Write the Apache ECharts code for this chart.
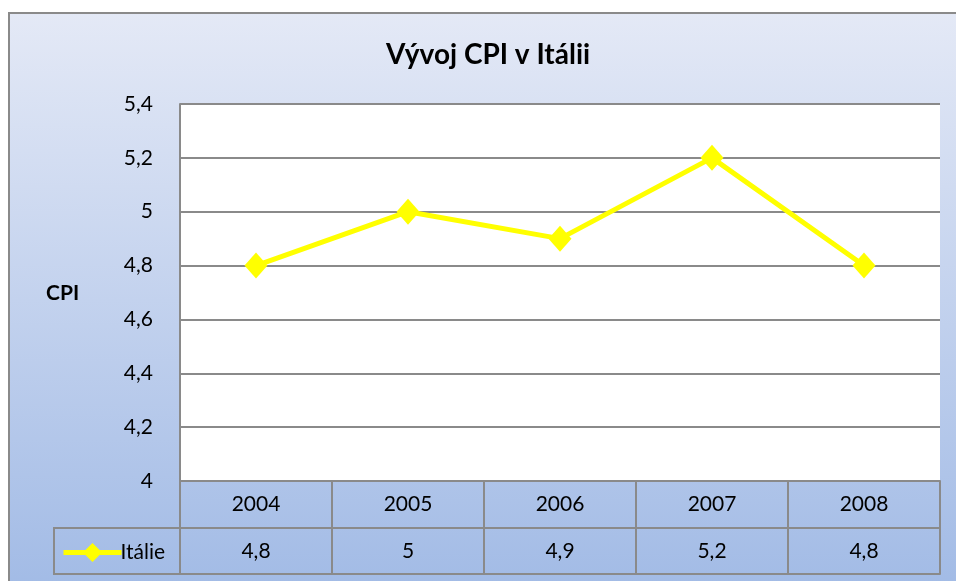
<!DOCTYPE html>
<html>
<head>
<meta charset="utf-8">
<script src="https://cdn.jsdelivr.net/npm/echarts@6/dist/echarts.min.js"></script>
<style>
  html, body { margin: 0; padding: 0; background: #fff; }
  #main { width: 956px; height: 581px; }
</style>
</head>
<body>
<div id="main"></div>
<script>
// data
var roky = ['2004', '2005', '2006', '2007', '2008'];
var cpiItalie = [4.8, 5, 4.9, 5.2, 4.8];
var nazevRady = 'Itálie';

function carka(v) {
    return String(+(+v).toFixed(1)).replace('.', ',');
}

var seda = '#8a8a8a';
var pismo = 'Lato, "Open Sans", sans-serif';
var velikost = 21;

var chart = echarts.init(document.getElementById('main'));
var option = {
    animation: false,
    textStyle: { fontFamily: pismo },
    title: {
        text: 'Vývoj CPI v Itálii',
        left: 381,
        top: 36,
        textStyle: { fontSize: 28, fontWeight: 'bold', color: '#000', fontFamily: pismo }
    },
    legend: {
        data: [nazevRady],
        left: 56,
        top: 537,
        itemWidth: 58,
        itemHeight: 24,
        itemGap: 0,
        lineStyle: { width: 5 },
        textStyle: { fontSize: velikost, color: '#000', fontFamily: pismo, padding: [0, 0, 0, -6] }
    },
    graphic: [
        {
            type: 'rect',
            silent: true,
            z: -10,
            shape: { x: 9, y: 13, width: 980, height: 600 },
            style: {
                fill: new echarts.graphic.LinearGradient(0, 0, 0, 1, [
                    { offset: 0, color: '#e4e9f6' },
                    { offset: 1, color: '#9fb9e5' }
                ]),
                stroke: seda,
                lineWidth: 2
            }
        },
        {
            type: 'rect',
            silent: true,
            z: 10,
            shape: { x: 54, y: 528, width: 126, height: 46 },
            style: { fill: 'none', stroke: seda, lineWidth: 2 }
        },
        {
            type: 'text',
            left: 46,
            top: 283,
            style: { text: 'CPI', fontSize: 21, fontWeight: 'bold', fill: '#000', fontFamily: pismo }
        }
    ],
    grid: {
        left: 180,
        right: 16,
        top: 104,
        bottom: 100,
        show: true,
        backgroundColor: '#fff',
        borderWidth: 0
    },
    xAxis: [
        {
            type: 'category',
            data: roky,
            position: 'bottom',
            axisLine: { lineStyle: { color: seda, width: 2 } },
            axisTick: { show: true, length: 47, lineStyle: { color: seda, width: 2 } },
            axisLabel: { fontSize: velikost, color: '#000', margin: 13, fontFamily: pismo }
        },
        {
            type: 'category',
            data: roky,
            position: 'bottom',
            offset: 47,
            axisLine: { lineStyle: { color: seda, width: 2 } },
            axisTick: { show: true, length: 46, lineStyle: { color: seda, width: 2 } },
            axisLabel: {
                fontSize: velikost, color: '#000', margin: 13, fontFamily: pismo,
                formatter: function (v, i) { return carka(cpiItalie[i]); }
            }
        },
        {
            type: 'category',
            data: roky,
            position: 'bottom',
            offset: 93,
            axisLine: { lineStyle: { color: seda, width: 2 } },
            axisTick: { show: false },
            axisLabel: { show: false }
        }
    ],
    yAxis: {
        type: 'value',
        min: 4,
        max: 5.4,
        interval: 0.2,
        axisLine: { show: true, lineStyle: { color: seda, width: 2 } },
        axisTick: { show: false },
        axisLabel: {
            fontSize: velikost, color: '#000', margin: 27, fontFamily: pismo,
            formatter: carka
        },
        splitLine: { lineStyle: { color: seda, width: 2 } }
    },
    series: [
        {
            name: nazevRady,
            type: 'line',
            data: cpiItalie,
            symbol: 'diamond',
            symbolSize: [23, 26],
            lineStyle: { color: '#ffff00', width: 5 },
            itemStyle: { color: '#ffff00' },
            z: 5
        }
    ]
};
chart.setOption(option);
</script>
</body>
</html>
